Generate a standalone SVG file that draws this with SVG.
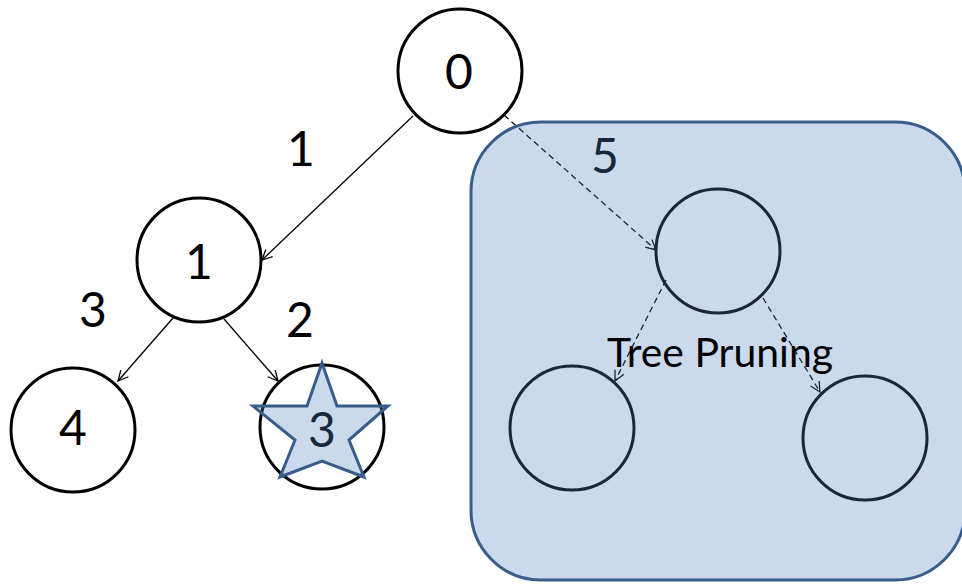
<svg xmlns="http://www.w3.org/2000/svg" width="962" height="585" viewBox="0 0 962 585">
  <defs>
    <marker id="arrow" viewBox="0 0 12 12" refX="11" refY="6" markerWidth="12" markerHeight="12" markerUnits="userSpaceOnUse" orient="auto">
      <path d="M1,1 L11,6 L1,11" fill="none" stroke="#000" stroke-width="1.3" stroke-dasharray="none"/>
    </marker>
  </defs>
  <style>
    .node { fill: #fff; stroke: #000; stroke-width: 3; }
    .ghost { fill: none; stroke: #000; stroke-width: 3; }
    .edge { fill: none; stroke: #000; stroke-width: 1.3; marker-end: url(#arrow); }
    .dash { stroke-dasharray: 6 4; }
    .num { font-family: Lato, "Liberation Sans", sans-serif; font-size: 48px; fill: #000; text-anchor: middle; }
    .caption { font-family: Lato, "Liberation Sans", sans-serif; font-size: 40px; fill: #000; }
    .overlay { fill: #4F81BD; fill-opacity: 0.3; stroke: #385D8A; stroke-width: 3; }
  </style>
  <rect width="962" height="585" fill="#fff"/>

  <!-- connectors -->
  <g id="connectors">
    <line class="edge" x1="413" y1="116" x2="262" y2="260"/>
    <line class="edge" x1="173" y1="318" x2="118" y2="381"/>
    <line class="edge" x1="224" y1="319" x2="278" y2="381"/>
    <line class="edge dash" x1="504" y1="115" x2="656" y2="250"/>
    <line class="edge dash" x1="666" y1="280" x2="615" y2="381"/>
    <line class="edge dash" x1="763" y1="298" x2="820" y2="392"/>
  </g>

  <!-- edge weights -->
  <g id="weights">
    <text class="num" x="301" y="166">1</text>
    <text class="num" x="93" y="327">3</text>
    <text class="num" x="300" y="337">2</text>
    <text class="num" x="605" y="173">5</text>
  </g>

  <g id="node-0">
    <circle class="node" cx="460" cy="71" r="62"/>
    <text class="num" x="459" y="89">0</text>
  </g>
  <g id="node-1">
    <circle class="node" cx="199" cy="260" r="62"/>
    <text class="num" x="199" y="279">1</text>
  </g>
  <g id="node-4">
    <circle class="node" cx="73" cy="430" r="62"/>
    <text class="num" x="73" y="445">4</text>
  </g>
  <g id="node-3">
    <circle class="node" cx="322" cy="427" r="62"/>
    <text class="num" x="322" y="447">3</text>
  </g>

  <!-- pruned subtree -->
  <g id="pruned-root">
    <circle class="ghost" cx="718" cy="251" r="62"/>
  </g>
  <g id="pruned-left">
    <circle class="ghost" cx="572" cy="428" r="62"/>
  </g>
  <g id="pruned-right">
    <circle class="ghost" cx="865" cy="438" r="62"/>
  </g>

  <!-- translucent highlight shapes -->
  <g id="pruning-region">
    <rect class="overlay" x="471" y="122" width="494" height="458" rx="70" ry="70"/>
  </g>
  <g id="goal-star">
    <polygon class="overlay" points="322,363 337,406 388,406 349,440 364,477 322,461 280,477 295,440 253,406 307,406"/>
  </g>

  <text class="caption" x="607" y="367" textLength="226" lengthAdjust="spacingAndGlyphs">Tree Pruning</text>
</svg>
